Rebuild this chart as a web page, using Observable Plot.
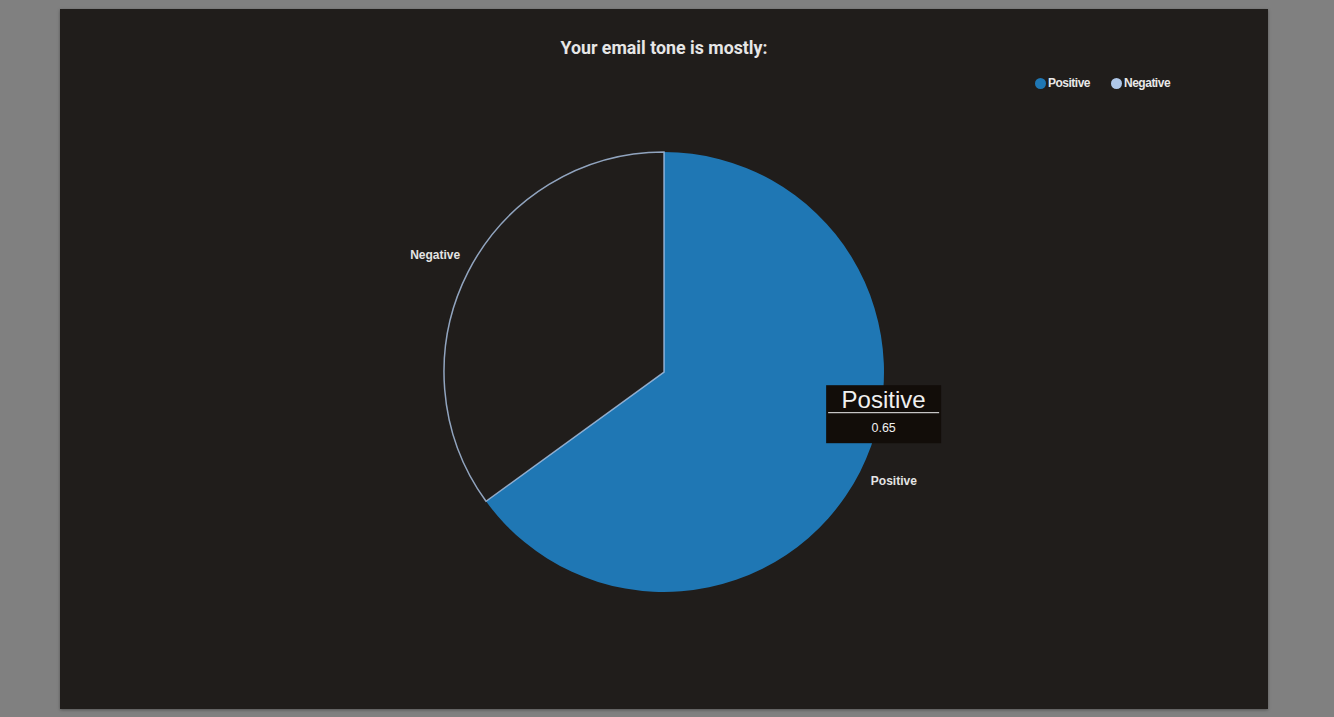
<!DOCTYPE html>
<html>
<head>
<meta charset="utf-8">
<script src="https://cdn.jsdelivr.net/npm/d3@7"></script>
<script src="https://cdn.jsdelivr.net/npm/@observablehq/plot@0.6"></script>
<style>
  html, body { margin: 0; padding: 0; background: #808080; width: 1334px; height: 717px; overflow: hidden; }
  #panel { position: absolute; left: 60px; top: 9px; width: 1208px; height: 700px; background: #201d1b;
           box-shadow: 0 1px 3px rgba(0,0,0,0.35); }
  #title { position: absolute; left: 0; top: 28px; width: 1208px; text-align: center;
           font-family: Roboto, "Noto Sans", sans-serif; font-weight: 700; font-size: 17.8px; color: #e6e6e6; line-height: 22px; }
  #legend { position: absolute; top: 65px; left: 975px; font-family: "Liberation Sans", Arial, sans-serif;
            font-weight: 700; font-size: 12px; letter-spacing: -0.5px; color: #e8e8e8; display: flex; gap: 21px; line-height: 18px; }
  #legend span.item { display: flex; align-items: center; }
  #legend span.sw { width: 11px; height: 11px; border-radius: 50%; display: inline-block; margin-right: 2px; }
  #chart { position: absolute; left: 0; top: 100px; }
</style>
</head>
<body>
<div id="panel">
  <div id="title"></div>
  <div id="legend"></div>
  <div id="chart"></div>
</div>
<script>
const titleText = "Your email tone is mostly:";
const categories = ["Positive", "Negative"];
const values = [0.65, 0.35];
const sliceFills = ["#1f77b4", "#201d1b"];
const legendColors = ["#1f77b4", "#aec7e8"];
const tooltipCategory = "Positive";

document.getElementById("title").textContent = titleText;
const legend = document.getElementById("legend");
categories.forEach((c, i) => {
  const it = document.createElement("span");
  it.className = "item";
  it.innerHTML = `<span class="sw" style="background:${legendColors[i]}"></span>${c}`;
  legend.appendChild(it);
});

const pie = d3.pie().sort(null).value(d => d.value)(categories.map((c, i) => ({key: c, value: values[i], i})));
const labelRx = 1.17, labelRy = 1.13;
const labelData = pie.map(a => {
  const m = (a.startAngle + a.endAngle) / 2;
  return {key: a.data.key, x: labelRx * Math.sin(m), y: labelRy * Math.cos(m)};
});

const W = 1208, H = 526, R = 220, CY = 263;
const pieMark = (index, scales) => {
  const sx = scales.x, sy = scales.y;
  const cx = sx(0), cy = sy(0);
  const r = sx(1) - sx(0);
  const g = d3.create("svg:g").attr("transform", `translate(${cx},${cy})`);
  const arc = d3.arc().innerRadius(0).outerRadius(r);
  g.selectAll("path").data(pie).join("path")
    .attr("d", arc)
    .attr("fill", d => sliceFills[d.data.i])
    .attr("stroke", d => d.data.i === 1 ? "#aec7e8" : "none")
    .attr("stroke-opacity", 0.8)
    .attr("stroke-width", 1.5);
  // static tooltip near the hovered slice
  const t = pie.find(d => d.data.key === tooltipCategory);
  const tg = g.append("g").attr("transform", `translate(${r * 0.737},${r * 0.06})`);
  tg.append("rect").attr("width", 115).attr("height", 58).attr("fill", "#120d09");
  tg.append("text").attr("x", 57.5).attr("y", 23).attr("text-anchor", "middle")
    .attr("font-family", "Liberation Sans, Arial, sans-serif").attr("font-size", 24).attr("fill", "#f0f0f0").text(t.data.key);
  tg.append("line").attr("x1", 2).attr("x2", 113).attr("y1", 27.5).attr("y2", 27.5).attr("stroke", "#f0f0f0").attr("stroke-width", 1);
  tg.append("text").attr("x", 57.5).attr("y", 47).attr("text-anchor", "middle")
    .attr("font-family", "Liberation Sans, Arial, sans-serif").attr("font-size", 12.5).attr("fill", "#f0f0f0").text(t.data.value.toFixed(2));
  return g.node();
};

const plot = Plot.plot({
  width: W,
  height: H,
  marginLeft: W / 2 - R,
  marginRight: W / 2 - R,
  marginTop: CY - R,
  marginBottom: H - CY - R,
  style: {background: "transparent", overflow: "visible"},
  x: {domain: [-1, 1], axis: null},
  y: {domain: [-1, 1], axis: null},
  marks: [
    pieMark,
    Plot.text(labelData, {x: "x", y: "y", text: "key", dy: -4, fill: "#e4e4e4", fontSize: 12, fontWeight: "bold",
      fontFamily: "Liberation Sans, Arial, sans-serif", letterSpacing: "-0.5px"})
  ]
});
document.getElementById("chart").appendChild(plot);
</script>
</body>
</html>
